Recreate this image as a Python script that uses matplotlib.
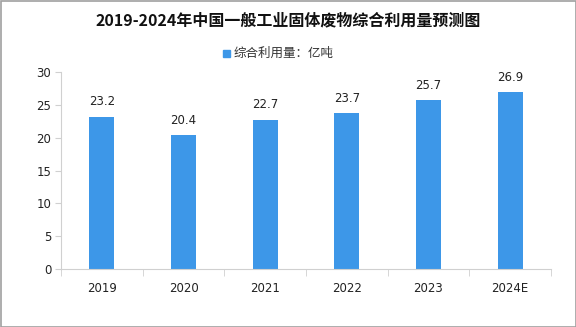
import matplotlib
matplotlib.use('Agg')
import matplotlib.pyplot as plt
from matplotlib.patches import Rectangle

plt.rcParams['font.family'] = ['Noto Sans CJK SC', 'DejaVu Sans']

# data
years = ['2019', '2020', '2021', '2022', '2023', '2024E']
usage = [23.2, 20.4, 22.7, 23.7, 25.7, 26.9]

bar_color = '#3d97e8'
axis_color = '#d0d0d0'

fig = plt.figure(figsize=(5.76, 3.27), dpi=100)
ax = fig.add_axes([61 / 576, 1 - 269 / 327, 490 / 576, 197 / 327])

x = range(len(years))
ax.bar(x, usage, width=0.31, color=bar_color, zorder=2)
for i, v in zip(x, usage):
    ax.text(i, v + 1.3, '%.1f' % v, ha='center', va='bottom', fontsize=8.5,
            color='#222222', family='DejaVu Sans')

ax.set_xlim(-0.5, len(years) - 0.5)
ax.set_ylim(0, 30)
ax.set_yticks(range(0, 31, 5))
ax.set_xticks(x)
ax.set_xticklabels(years)
ax.set_xticks([i - 0.5 for i in range(len(years) + 1)], minor=True)
ax.tick_params(axis='x', which='major', length=0, pad=9, labelsize=8.5, labelcolor='#222222')
ax.tick_params(axis='x', which='minor', length=5, color=axis_color, direction='out')
ax.tick_params(axis='y', length=4, color=axis_color, labelsize=8.5, labelcolor='#222222', pad=3)
for lab in ax.get_xticklabels() + ax.get_yticklabels():
    lab.set_family('DejaVu Sans')

for s in ['top', 'right']:
    ax.spines[s].set_visible(False)
ax.spines['left'].set_color(axis_color)
ax.spines['bottom'].set_color(axis_color)

fig.text(0.5, 1 - 20 / 327, '2019-2024年中国一般工业固体废物综合利用量预测图',
         ha='center', va='center', fontsize=11.5, fontweight='bold', color='#111111')

# legend
fig.patches.append(Rectangle((223 / 576, 1 - 57 / 327), 7 / 576, 7 / 327,
                             transform=fig.transFigure, color=bar_color))
fig.text(234 / 576, 1 - 53.5 / 327, '综合利用量：亿吨', ha='left', va='center',
         fontsize=9, color='#333333')

# outer frame
fig.patches.append(Rectangle((0.5 / 576, 0.5 / 327), 575 / 576, 326 / 327,
                             transform=fig.transFigure, fill=False,
                             edgecolor='#a0a0a0', linewidth=1.2))

fig.savefig('out.png', dpi=100)
